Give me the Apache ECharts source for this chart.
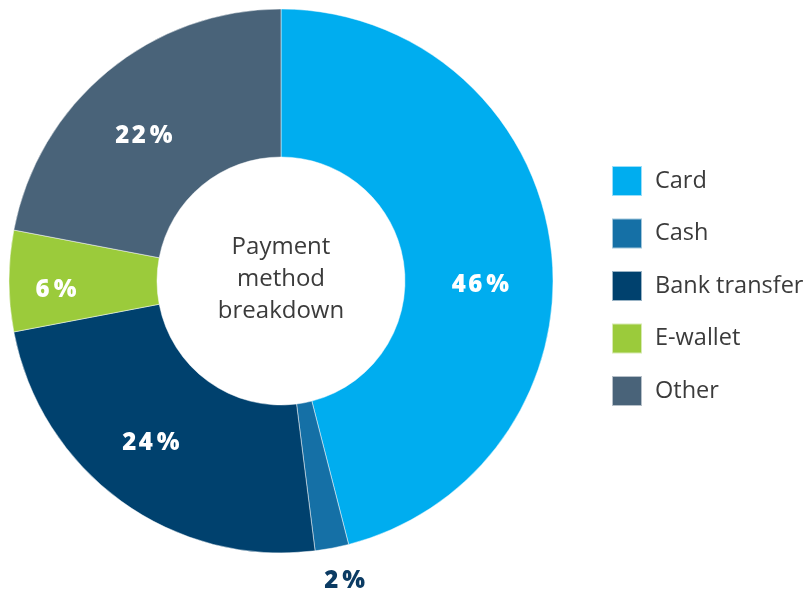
<!DOCTYPE html>
<html>
<head>
<meta charset="utf-8">
<script src="https://cdn.jsdelivr.net/npm/echarts@6/dist/echarts.min.js"></script>
<style>
  html, body { margin: 0; padding: 0; background: #ffffff; }
  #chart { width: 808px; height: 592px; }
</style>
</head>
<body>
<div id="chart"></div>
<script>
// Payment method shares (percent of all payments)
const categories = ['Card', 'Cash', 'Bank transfer', 'E-wallet', 'Other'];
const shares = [46, 2, 24, 6, 22];
const sliceColors = ['#00adef', '#1570a6', '#00416e', '#9bcb3b', '#496379'];
const centerTitle = 'Payment\nmethod\nbreakdown';

// Small per-slice nudges so the percentage labels sit clear of the ring edges
const labelNudge = [
  { dx: 0, dy: 29 },
  { dx: 26, dy: 103 },
  { dx: -12, dy: 0 },
  { dx: -24, dy: 9 },
  { dx: -9, dy: 10 }
];

// Widely tracked percentage text: hair spaces between glyphs
function spacedPercent(v) {
  return String(v).split('').join('\u200a') + '\u2009%';
}

const chart = echarts.init(document.getElementById('chart'), null, { renderer: 'canvas' });

const pieData = categories.map((name, i) => {
  const item = { name: name, value: shares[i], itemStyle: { color: sliceColors[i] } };
  if (shares[i] < 5) {
    // too thin for an inside label: print it below the ring in dark navy
    item.label = { color: '#0b3b63' };
  }
  return item;
});

chart.setOption({
  animation: false,
  backgroundColor: '#ffffff',
  legend: {
    orient: 'vertical',
    left: 606,
    top: 160,
    padding: 5,
    icon: 'rect',
    itemWidth: 30,
    itemHeight: 30,
    itemGap: 20.5,
    selectedMode: false,
    textStyle: {
      fontFamily: 'Open Sans',
      fontSize: 23.5,
      color: '#3b3b3b',
      padding: [0, 0, 0, 8]
    },
    data: categories
  },
  graphic: [{
    type: 'text',
    x: 281,
    y: 279,
    style: {
      text: centerTitle,
      fontFamily: 'Open Sans',
      fontSize: 24,
      lineHeight: 32,
      fill: '#3b3b3b',
      align: 'center',
      verticalAlign: 'middle'
    }
  }],
  series: [{
    type: 'pie',
    center: [281, 281],
    radius: [124, 272],
    startAngle: 90,
    clockwise: true,
    avoidLabelOverlap: false,
    silent: true,
    itemStyle: { borderColor: 'rgba(255,255,255,0.6)', borderWidth: 0.8 },
    label: {
      show: true,
      position: 'inside',
      formatter: p => spacedPercent(p.value),
      fontFamily: 'Open Sans',
      fontWeight: 800,
      fontSize: 24,
      color: '#ffffff'
    },
    labelLine: { show: false },
    labelLayout: p => labelNudge[p.dataIndex],
    data: pieData
  }]
});
</script>
</body>
</html>
